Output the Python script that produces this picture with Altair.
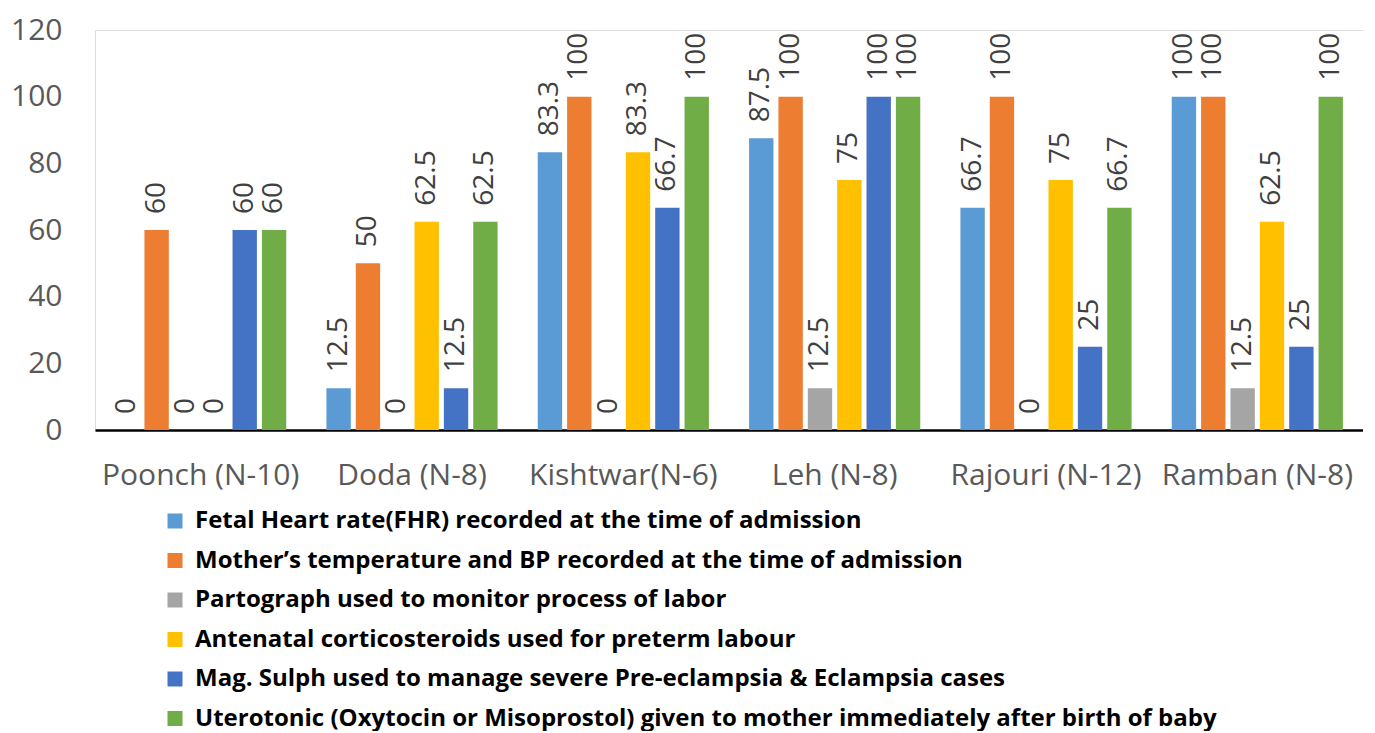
import altair as alt
import pandas as pd

districts = ["Poonch (N-10)", "Doda (N-8)", "Kishtwar(N-6)", "Leh (N-8)", "Rajouri (N-12)", "Ramban (N-8)"]
series = [
    " Fetal Heart rate(FHR) recorded at the time of admission",
    " Mother\u2019s temperature and BP recorded at the time of admission",
    "Partograph used to monitor process of labor",
    "Antenatal corticosteroids used for preterm labour",
    "Mag. Sulph used to manage severe Pre-eclampsia & Eclampsia cases",
    "Uterotonic (Oxytocin or Misoprostol) given to mother immediately after birth of baby",
]
colors = ["#5B9BD5", "#ED7D31", "#A5A5A5", "#FFC000", "#4472C4", "#70AD47"]

fhr = [0, 12.5, 83.3, 87.5, 66.7, 100]
mother = [60, 50, 100, 100, 100, 100]
partograph = [0, 0, 0, 12.5, 0, 12.5]
antenatal = [0, 62.5, 83.3, 75, 75, 62.5]
magsulph = [60, 12.5, 66.7, 100, 25, 25]
uterotonic = [60, 62.5, 100, 100, 66.7, 100]

values = [fhr, mother, partograph, antenatal, magsulph, uterotonic]
rows = []
for s, vals in zip(series, values):
    for d, v in zip(districts, vals):
        rows.append({"district": d, "series": s, "value": v,
                     "label": ("%g" % v)})
df = pd.DataFrame(rows)

x = alt.X("district:N", sort=districts, title=None,
          scale=alt.Scale(paddingInner=0.19, paddingOuter=0.095),
          axis=alt.Axis(labelAngle=0, labelFontSize=30, labelColor="#595959",
                        labelFont="Open Sans", ticks=False, domainColor="#000000",
                        domainWidth=2.5, labelPadding=30, labelLimit=400))
xo = alt.XOffset("series:N", sort=series, scale=alt.Scale(paddingInner=0.17))
y = alt.Y("value:Q", title=None, scale=alt.Scale(domain=[0, 120]),
          axis=alt.Axis(values=[0, 20, 40, 60, 80, 100, 120], grid=False, domain=False,
                        ticks=False, labelFontSize=30, labelColor="#595959",
                        labelFont="Open Sans", labelPadding=33))

bars = alt.Chart(df).mark_bar().encode(
    x=x, xOffset=xo, y=y,
    color=alt.Color("series:N", sort=series,
                    scale=alt.Scale(domain=series, range=colors),
                    legend=alt.Legend(title=None, orient="none", legendX=68, legendY=479,
                                      direction="vertical", symbolType="square",
                                      symbolSize=225, symbolStrokeWidth=0,
                                      labelFont="Open Sans", labelFontWeight="bold",
                                      labelFontSize=24, labelColor="#000000",
                                      labelLimit=1300, rowPadding=15.5, padding=0,
                                      labelOffset=8)),
)

text = alt.Chart(df).mark_text(angle=270, align="left", baseline="middle", dx=16,
                               fontSize=28, color="#404040", font="Open Sans").encode(
    x=x, xOffset=xo, y=y, text="label:N")

chart = alt.layer(bars, text).properties(
    width=1268, height=400,
    autosize=alt.AutoSizeParams(type="none"),
    padding={"left": 87, "top": 22, "right": 0, "bottom": 301},
).configure_view(stroke=None).configure(background="white")

chart.save("out.html", embed_options={"renderer": "svg", "actions": False})
